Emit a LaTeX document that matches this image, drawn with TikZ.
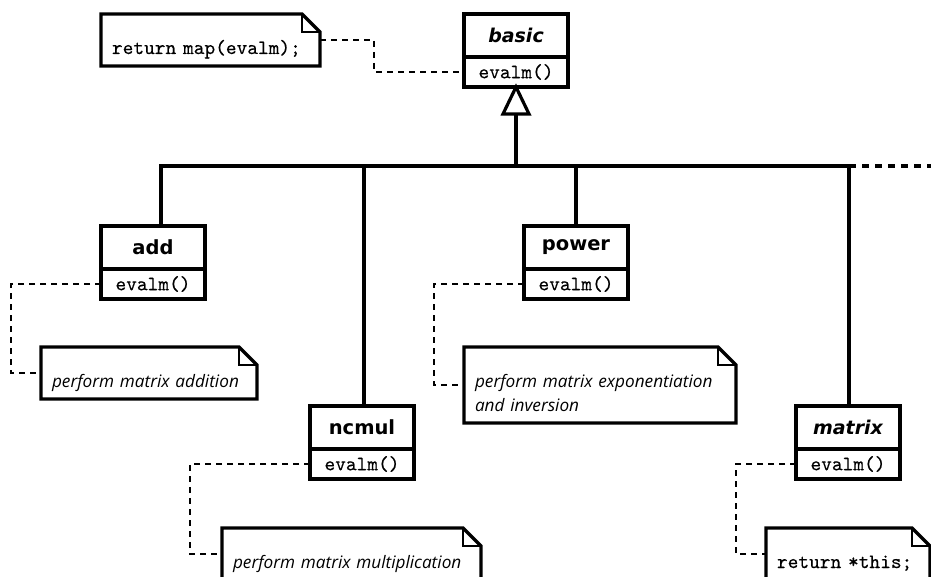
\documentclass[tikz,border=0pt]{standalone}
\usepackage{fontspec}
\newfontfamily\clsfont{DejaVu Sans}
\newfontfamily\notefont{Open Sans}
\newfontfamily\codefont{lmmono10-regular.otf}[FakeBold=0.35]
% outline of a UML note with a folded top-right corner
\newcommand\dogear[1]{%
  \draw[noteedge] (#1.north west) -- ([xshift=-18pt]#1.north east)
    -- ([yshift=-18pt]#1.north east) -- (#1.south east) -- (#1.south west) -- cycle;
  \draw[notefold] ([xshift=-18pt]#1.north east) |- ([yshift=-18pt]#1.north east);
}
\begin{document}
\begin{tikzpicture}[x=1pt,y=-1pt,
  every node/.style={outer sep=0pt},
  classhead/.style={draw, line width=3.2pt, minimum width=104pt, minimum height=43pt,
    inner sep=0pt, anchor=north, font=\clsfont\bfseries\fontsize{19.5}{22}\selectfont},
  abstracthead/.style={classhead, font=\clsfont\bfseries\itshape\fontsize{19}{22}\selectfont},
  classops/.style={draw, line width=3.2pt, minimum width=104pt, minimum height=30pt,
    inner sep=0pt, anchor=north, font=\codefont\fontsize{20.4}{22}\selectfont},
  note/.style={anchor=north west, inner xsep=11pt, inner ysep=0pt, align=left},
  textnote/.style={note, font=\notefont\itshape\fontsize{17.2}{24}\selectfont},
  codenote/.style={note, font=\codefont\fontsize{20.4}{24}\selectfont},
  noteedge/.style={line width=3.2pt, line join=miter},
  notefold/.style={line width=1.6pt},
  gen/.style={line width=3.2pt},
  genhead/.style={line width=3.2pt, fill=white, line join=miter},
  notelink/.style={line width=1.6pt, dash pattern=on 6pt off 5pt},
  morelink/.style={line width=3.2pt, dash pattern=on 7pt off 6pt}
]
\useasboundingbox (0,0) rectangle (931,577);
\clip (0,0) rectangle (931,577);

% classes
\node[abstracthead] (basic) at (516,14) {basic};
\node[classops] (basic-m) at (basic.south) {evalm()};
\node[classhead] (add) at (153,226) {add};
\node[classops] (add-m) at (add.south) {evalm()};
\node[classhead] (power) at (576,226) {power};
\node[classops] (power-m) at (power.south) {evalm()};
\node[classhead] (ncmul) at (362,406) {ncmul};
\node[classops] (ncmul-m) at (ncmul.south) {evalm()};
\node[abstracthead] (matrix) at (848,406) {matrix};
\node[classops] (matrix-m) at (matrix.south) {evalm()};

% notes
\node[codenote, text width=197pt, text height=40pt, text depth=12pt] (topnote) at (101,14) {return map(evalm);};
\node[textnote, text width=194pt, text height=40pt, text depth=12pt] (addnote) at (41,347) {perform matrix addition};
\node[textnote, text width=250pt, text height=40pt, text depth=36pt] (pownote) at (464,347) {perform matrix exponentiation\\and inversion};
\node[textnote, text width=237pt, text height=40pt, text depth=12pt] (ncnote) at (222,528) {perform matrix multiplication};
\node[codenote, text width=142pt, text height=40pt, text depth=12pt] (mxnote) at (766,528) {return *this;};
\dogear{topnote}
\dogear{addnote}
\dogear{pownote}
\dogear{ncnote}
\dogear{mxnote}

% note attachments
\draw[notelink] (topnote.east) -- ++(54,0) |- (basic-m.west);
\draw[notelink] (add-m.west) -- ++(-90,0) |- (addnote.west);
\draw[notelink] (power-m.west) -- ++(-90,0) |- (pownote.west);
\draw[notelink] (ncmul-m.west) -- ++(-120,0) |- (ncnote.west);
\draw[notelink] (matrix-m.west) -- ++(-60,0) |- (mxnote.west);

% generalization tree
\coordinate (hub) at (516,166);
\coordinate (tribase) at ([yshift=-27pt]basic-m.south);
\coordinate (barL) at ([xshift=8pt]add.north |- hub);
\coordinate (barR) at ([xshift=1pt]matrix.north |- hub);
\coordinate (more) at (931,166);
\draw[gen] ([xshift=8pt]add.north) -- (barL) -- (barR) -- ([xshift=1pt]matrix.north);
\draw[gen] ([xshift=2pt]ncmul.north) -- ([xshift=2pt]ncmul.north |- hub);
\draw[gen] (power.north) -- (power.north |- hub);
\draw[gen] (tribase) -- (hub);
\draw[morelink] (barR) -- (more);
\draw[genhead] (basic-m.south) -- ++(-13,27) -- ++(26,0) -- cycle;
\end{tikzpicture}
\end{document}
